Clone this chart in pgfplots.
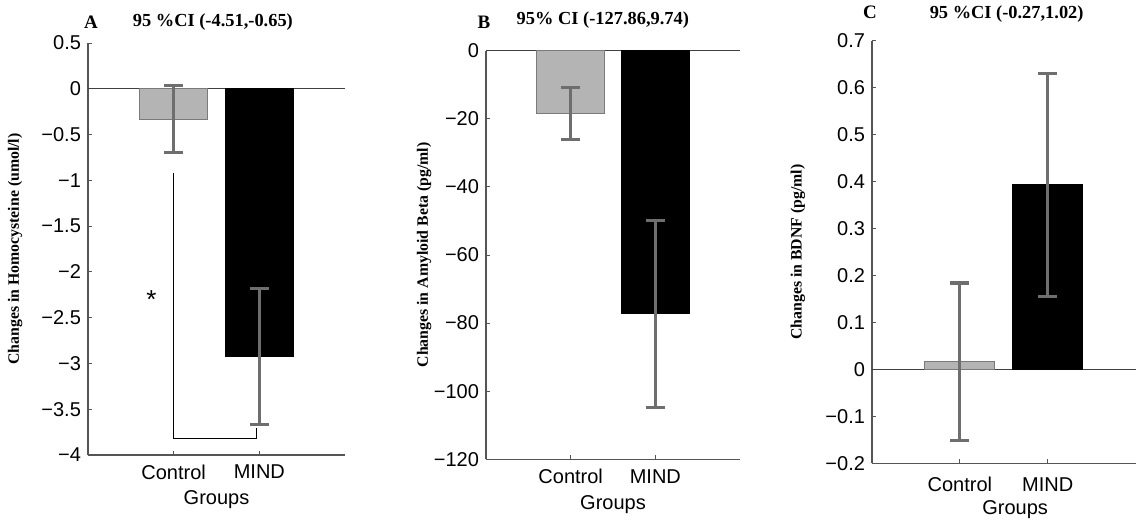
\documentclass[border=0pt]{standalone}
\usepackage{pgfplots}
\pgfplotsset{compat=1.18}
\usepackage{fontspec}
\setmainfont{Liberation Serif}
\newfontfamily\arial{Liberation Sans}
\definecolor{barg}{HTML}{B4B4B4}
\definecolor{bard}{HTML}{7A7A7A}
\definecolor{errg}{HTML}{6E6E6E}
\definecolor{axg}{HTML}{555555}
\pgfplotsset{
  panel/.style={
    scale only axis, clip=false,
    axis x line*=bottom, axis y line*=left,
    axis line style={color=axg, line width=0.55pt},
    xmin=0, xmax=3,
    xtick={1,2}, xticklabels={Control,MIND},
    tick align=inside, major tick length=2pt,
    tick style={color=axg, line width=0.5pt},
    ticklabel style={font=\arial\fontsize{10}{12}\selectfont},
    xlabel={Groups},
    xlabel style={font=\arial\fontsize{10}{12}\selectfont, anchor=center},
    ylabel style={font=\bfseries\fontsize{7.9}{9}\selectfont, anchor=center, rotate=0},
  },
  errb/.style={error bars/.cd, y dir=both, y explicit,
    error bar style={line width=1.6pt, color=errg},
    error mark options={rotate=90, mark size=4.75pt, line width=1.6pt, color=errg}},
  gbar/.style={ybar, bar width=0.8, bar shift=0pt, fill=barg, draw=bard, line width=0.5pt, errb},
  kbar/.style={ybar, bar width=0.8, bar shift=0pt, fill=black, draw=black, line width=0.5pt, errb},
  zline/.style={color=black!75, line width=0.6pt, forget plot},
}
\begin{document}
\begin{tikzpicture}
\useasboundingbox (0,0) rectangle (571.5pt,260pt);
% Panel A
\begin{axis}[panel, at={(44pt,32.5pt)}, anchor=south west,
  width=128.5pt, height=206pt,
  ymin=-4, ymax=0.5,
  ytick={-4,-3.5,-3,-2.5,-2,-1.5,-1,-0.5,0,0.5},
  yticklabels={−4,−3.5,−3,−2.5,−2,−1.5,−1,−0.5,0,0.5},
  ylabel={Changes in Homocysteine (umol/l)},
  ylabel style={at={(axis description cs:-0.284,0.5)}},
  xlabel style={at={(axis description cs:0.5,0)}, yshift=-22.5pt},
  xticklabel style={yshift=-1.5pt},
]
\addplot[zline] coordinates {(0,0) (3,0)};
\addplot[gbar] coordinates {(1,-0.33) +- (0,0.37)};
\addplot[kbar] coordinates {(2,-2.925) +- (0,0.745)};
\addplot[black, line width=0.5pt, forget plot] coordinates {(1,-0.92) (1,-3.82) (1.97,-3.82) (1.97,-3.71)};
\node[font=\arial\fontsize{13}{13}\selectfont] at (axis cs:0.74,-2.3) {*};
\node[font=\bfseries\fontsize{9.5}{10}\selectfont] at (axis description cs:0.012,1.051) {A};
\node[font=\bfseries\fontsize{9.2}{10}\selectfont] at (axis description cs:0.486,1.051) {95 \%CI (-4.51,-0.65)};
\end{axis}
% Panel B
\begin{axis}[panel, at={(243pt,30.35pt)}, anchor=south west,
  width=127pt, height=204.3pt,
  ymin=-120, ymax=0,
  ytick={-120,-100,-80,-60,-40,-20,0},
  yticklabels={−120,−100,−80,−60,−40,−20,0},
  ylabel={Changes in Amyloid Beta (pg/ml)},
  ylabel style={at={(axis description cs:-0.244,0.5)}},
  xlabel style={at={(axis description cs:0.5,0)}, yshift=-22.5pt},
  xticklabel style={yshift=-1.5pt},
]
\addplot[zline] coordinates {(0,0) (3,0)};
\addplot[gbar] coordinates {(1,-18.4) +- (0,7.6)};
\addplot[kbar] coordinates {(2,-77.3) +- (0,27.4)};
\node[font=\bfseries\fontsize{9.5}{10}\selectfont] at (axis description cs:-0.008,1.07) {B};
\node[font=\bfseries\fontsize{9.2}{10}\selectfont] at (axis description cs:0.46,1.075) {95\% CI (-127.86,9.74)};
\end{axis}
% Panel C
\begin{axis}[panel, at={(436pt,28.35pt)}, anchor=south west,
  width=131.75pt, height=211.3pt,
  ymin=-0.2, ymax=0.7,
  ytick={-0.2,-0.1,0,0.1,0.2,0.3,0.4,0.5,0.6,0.7},
  yticklabels={−0.2,−0.1,0,0.1,0.2,0.3,0.4,0.5,0.6,0.7},
  ylabel={Changes in BDNF (pg/ml)},
  ylabel style={at={(axis description cs:-0.281,0.5)}},
  xlabel style={at={(axis description cs:0.543,0)}, yshift=-23pt},
  xticklabel style={yshift=-3.5pt},
]
\addplot[zline] coordinates {(0,0) (3,0)};
\addplot[gbar] coordinates {(1,0.016) +- (0,0.168)};
\addplot[kbar] coordinates {(2,0.393) +- (0,0.237)};
\node[font=\bfseries\fontsize{9.5}{10}\selectfont] at (axis description cs:-0.008,1.068) {C};
\node[font=\bfseries\fontsize{9.2}{10}\selectfont] at (axis description cs:0.511,1.063) {95 \%CI (-0.27,1.02)};
\end{axis}
\end{tikzpicture}
\end{document}
